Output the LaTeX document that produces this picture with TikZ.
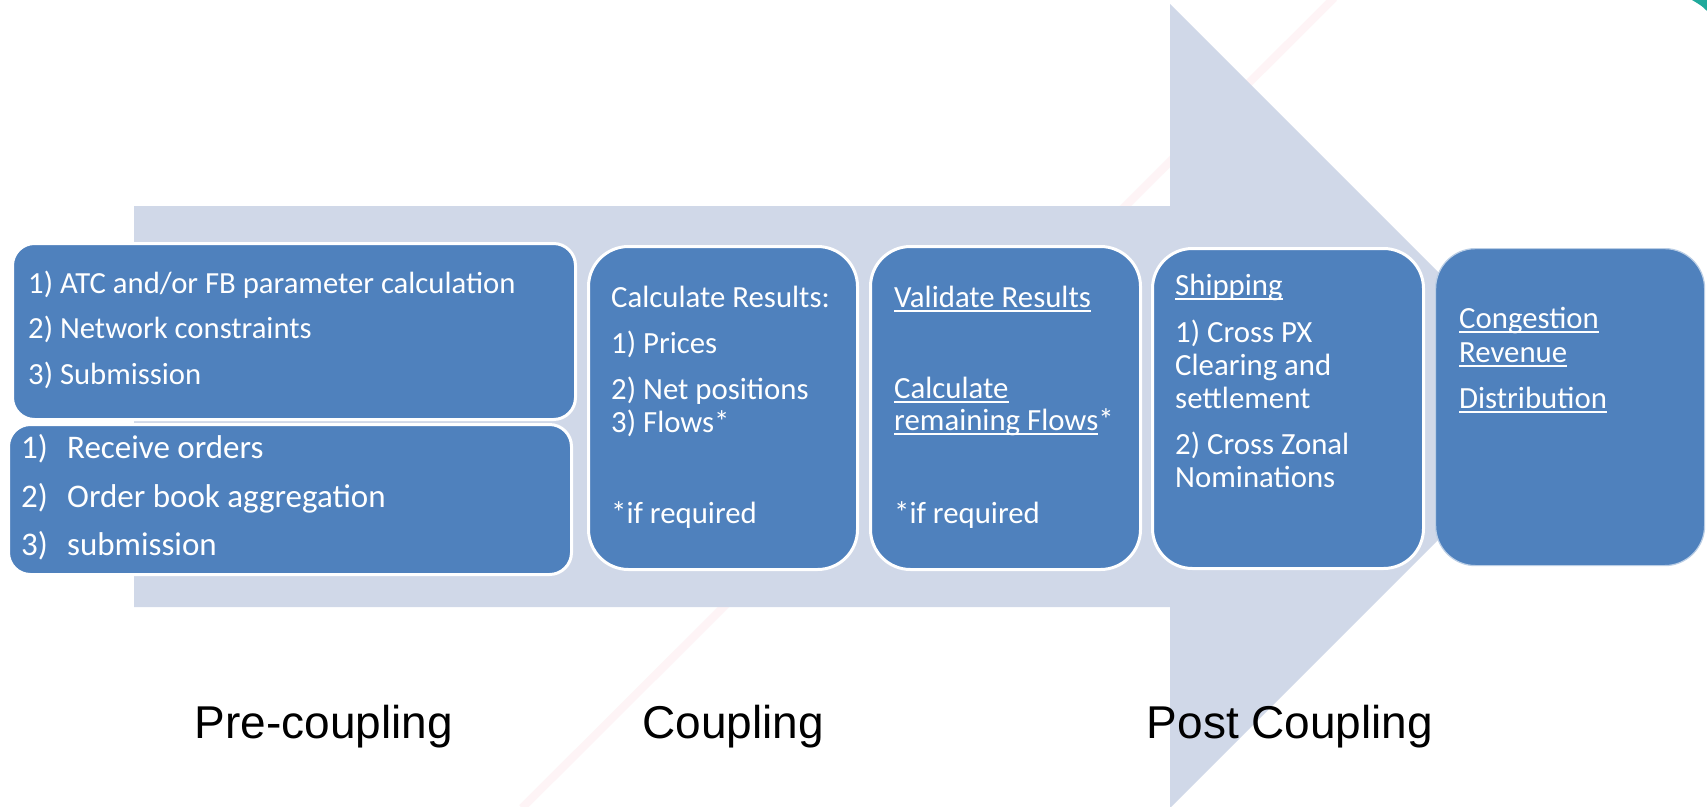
\documentclass[tikz,border=0pt]{standalone}
\usepackage{fontspec}
\setmainfont{Carlito}
\newfontfamily\arialf{Liberation Sans}
\newcommand{\myul}[1]{\setbox0\hbox{#1}\rlap{\rule[-4.5pt]{\wd0}{1.6pt}}\box0}
\definecolor{boxblue}{HTML}{4F81BD}
\definecolor{arrowfill}{HTML}{D0D8E8}
\definecolor{pinkline}{HTML}{FEF4F6}
\definecolor{tealc}{HTML}{1FA99B}
\tikzset{
  box/.style={draw=white, line width=3pt, fill=boxblue, anchor=north west, inner sep=0pt},
  smallr/.style={rounded corners=22pt},
  bigr/.style={rounded corners=40pt},
  tl/.style={anchor=base west, inner sep=0pt, text=white, font=\fontsize{30.8}{30.8}\selectfont},
  tlb/.style={anchor=base west, inner sep=0pt, text=white, font=\fontsize{33}{33}\selectfont},
  phase/.style={anchor=base, inner sep=0pt, text=black, font=\arialf\fontsize{46}{46}\selectfont},
}
\begin{document}
\begin{tikzpicture}[x=1pt,y=-1pt]
\useasboundingbox (0,0) rectangle (1707,806);
\fill[white] (0,0) rectangle (1707,806);
% faint watermark line
\draw[pinkline, line width=8pt] (522,808) -- (1334,-2);
% big arrow
\fill[arrowfill] (134,206) -- (1170,206) -- (1170,4) -- (1572,406) -- (1170,808) -- (1170,607) -- (134,607) -- cycle;
% teal corner
\fill[tealc] (1692,0) -- (1707,0) -- (1707,11) .. controls (1702,6) .. cycle;
% boxes
\node[box, smallr, minimum width=563pt, minimum height=176pt] (boxA) at (11,242) {};
\node[box, smallr, minimum width=563pt, minimum height=150pt] (boxB) at (7,423) {};
\node[box, bigr, minimum width=269pt, minimum height=323pt] (boxC) at (587,245) {};
\node[box, bigr, minimum width=270pt, minimum height=323pt] (boxD) at (869,245) {};
\node[box, bigr, minimum width=271pt, minimum height=320pt] (boxE) at (1151,247) {};
\node[box, bigr, draw=white!60!boxblue, line width=1.2pt, minimum width=269pt, minimum height=317pt] (boxF) at (1435,248) {};
% box A text
\node[tl, font=\fontsize{30.7}{30.7}\selectfont] (a1) at (28,293) {1) ATC and/or FB parameter calculation};
\node[tl, font=\fontsize{30.7}{30.7}\selectfont] (a2) at (28,338) {2) Network constraints};
\node[tl, font=\fontsize{30.7}{30.7}\selectfont] (a3) at (28,384) {3) Submission};
% box B text
\node[tlb] (b1) at (21,458) {\makebox[46pt][l]{1)}Receive orders};
\node[tlb] (b2) at (21,507) {\makebox[46pt][l]{2)}Order book aggregation};
\node[tlb] (b3) at (21,555) {\makebox[46pt][l]{3)}submission};
% box C text
\node[tl] (c1) at (611,307) {Calculate Results:};
\node[tl] (c2) at (611,353) {1) Prices};
\node[tl] (c3) at (611,399) {2) Net positions};
\node[tl] (c4) at (611,432) {3) Flows*};
\node[tl] (c5) at (611,523) {*if required};
% box D text
\node[tl] (d1) at (894,307) {\myul{Validate Results}};
\node[tl] (d2) at (894,398) {\myul{Calculate}};
\node[tl] (d3) at (894,430) {\myul{remaining Flows}*};
\node[tl] (d4) at (894,523) {*if required};
% box E text
\node[tl] (e1) at (1175,295) {\myul{Shipping}};
\node[tl] (e2) at (1175,342) {1) Cross PX};
\node[tl] (e3) at (1175,375) {Clearing and};
\node[tl] (e4) at (1175,408) {settlement};
\node[tl] (e5) at (1175,454) {2) Cross Zonal};
\node[tl] (e6) at (1175,487) {Nominations};
% box F text
\node[tl] (f1) at (1459,328) {\myul{Congestion}};
\node[tl] (f2) at (1459,362) {\myul{Revenue}};
\node[tl] (f3) at (1459,408) {\myul{Distribution}};
% phase labels
\node[phase] (pre) at (324,738) {Pre-coupling};
\node[phase] (cpl) at (733,738) {Coupling};
\node[phase] (post) at (1290,738) {Post Coupling};
\end{tikzpicture}
\end{document}
